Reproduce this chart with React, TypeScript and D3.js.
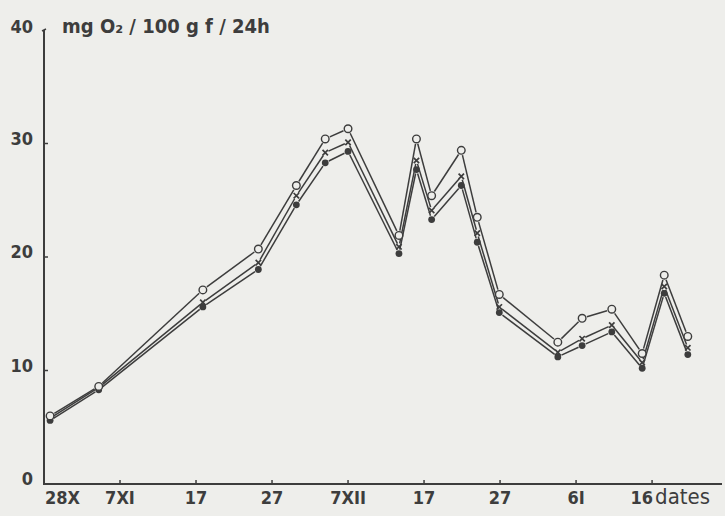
import React from "react";
import * as d3 from "d3";

// days counted from 28 October
const days = [0.8, 7.2, 20.9, 28.2, 33.2, 37, 40, 46.7, 49, 51, 54.9, 57, 59.9, 67.6, 70.8, 74.7, 78.7, 81.6, 84.7];
const openSeries = [6.0, 8.6, 17.1, 20.7, 26.3, 30.4, 31.3, 21.9, 30.4, 25.4, 29.4, 23.5, 16.7, 12.5, 14.6, 15.4, 11.5, 18.4, 13.0];
const crossSeries = [5.8, 8.5, 16.0, 19.5, 25.4, 29.2, 30.1, 20.9, 28.5, 24.1, 27.1, 22.1, 15.6, 11.6, 12.8, 14.0, 10.7, 17.4, 12.0];
const filledSeries = [5.6, 8.3, 15.6, 18.9, 24.6, 28.3, 29.3, 20.3, 27.7, 23.3, 26.3, 21.3, 15.1, 11.2, 12.2, 13.4, 10.2, 16.8, 11.4];

const xTickDays = [0, 10, 20, 30, 40, 50, 60, 70, 80];
const xTickLabels = ["28X", "7XI", "17", "27", "7XII", "17", "27", "6I", "16"];
const yTicks = [0, 10, 20, 30, 40];
const yLabel = "mg O\u2082 / 100 g f / 24h";
const xLabel = "dates";

const W = 725;
const H = 516;
const INK = "#3d3d3d";
const BG = "#eeeeeb";
const FONT = "'DejaVu Sans', sans-serif";

export default function App() {
  const x = d3.scaleLinear().domain([0, 89.2]).range([44, 722]);
  const y = d3.scaleLinear().domain([0, 40]).range([484, 30]);
  const x0 = x(0);
  const y0 = y(0);

  const segs = (vals: number[], gap: number) => {
    const out: JSX.Element[] = [];
    for (let i = 0; i < vals.length - 1; i++) {
      const ax = x(days[i]), ay = y(vals[i]);
      const bx = x(days[i + 1]), by = y(vals[i + 1]);
      const dx = bx - ax, dy = by - ay;
      const len = Math.hypot(dx, dy);
      if (len < 2 * gap + 1) continue;
      const ux = dx / len, uy = dy / len;
      out.push(
        <line key={i} x1={ax + ux * gap} y1={ay + uy * gap} x2={bx - ux * gap} y2={by - uy * gap}
          stroke={INK} strokeWidth={1.5} />
      );
    }
    return out;
  };

  const textStyle = { fontStretch: "condensed" as const };

  return (
    <svg width={W} height={H} style={{ position: "absolute", left: 0, top: 0, background: BG }}>
      <rect x={0} y={0} width={W} height={H} fill={BG} />
      {/* axes */}
      <line x1={x0} y1={y0} x2={x(89.2)} y2={y0} stroke={INK} strokeWidth={2} />
      <line x1={x0} y1={y0 + 1} x2={x0} y2={y(40)} stroke={INK} strokeWidth={2} />
      <path d={`M${x0 - 2},${y(40) + 1} L${x0 + 2},${y(40) - 1}`} stroke={INK} strokeWidth={1.5} />
      {yTicks.filter(t => t > 0 && t < 40).map(t => (
        <line key={t} x1={x0} y1={y(t)} x2={x0 + 4} y2={y(t)} stroke={INK} strokeWidth={1.5} />
      ))}
      {yTicks.map(t => (
        <text key={"l" + t} x={33} y={y(t)} dy={t === 40 ? 3 : 1} textAnchor="end" style={textStyle}
          fontFamily={FONT} fontSize={18} fontWeight="bold" fill={INK}>{t}</text>
      ))}
      <text x={62} y={33} fontFamily={FONT} fontSize={20} fontWeight="bold" fill={INK} style={textStyle}>{yLabel}</text>

      {xTickDays.map((d, i) => i > 0 && (
        <line key={"xt" + d} x1={x(d)} y1={y0} x2={x(d)} y2={y0 - 4} stroke={INK} strokeWidth={1.5} />
      ))}
      {xTickDays.map((d, i) => {
        const last = i === xTickDays.length - 1;
        const anchor = i === 0 ? "start" : last ? "end" : "middle";
        const tx = i === 0 ? x(d) + 1 : last ? x(d) + 1 : x(d);
        return (
          <text key={"xl" + d} x={tx} y={504} textAnchor={anchor} style={textStyle}
            fontFamily={FONT} fontSize={18} fontWeight="bold" fill={INK}>{xTickLabels[i]}</text>
        );
      })}
      <text x={x(80) + 3} y={504} fontFamily={FONT} fontSize={22} fill={INK} style={textStyle}>{xLabel}</text>

      {/* series lines */}
      <g>{segs(openSeries, 5)}</g>
      <g>{segs(crossSeries, 3.5)}</g>
      <g>{segs(filledSeries, 4)}</g>

      {/* markers */}
      {filledSeries.map((v, i) => (
        <circle key={"f" + i} cx={x(days[i])} cy={y(v)} r={3.4} fill={INK} />
      ))}
      {crossSeries.map((v, i) => {
        const cx = x(days[i]), cy = y(v), s = 2.7;
        return (
          <path key={"c" + i} d={`M${cx - s},${cy - s}L${cx + s},${cy + s}M${cx - s},${cy + s}L${cx + s},${cy - s}`}
            stroke={INK} strokeWidth={1.7} />
        );
      })}
      {openSeries.map((v, i) => (
        <circle key={"o" + i} cx={x(days[i])} cy={y(v)} r={3.8} fill={BG} stroke={INK} strokeWidth={1.4} />
      ))}
    </svg>
  );
}
